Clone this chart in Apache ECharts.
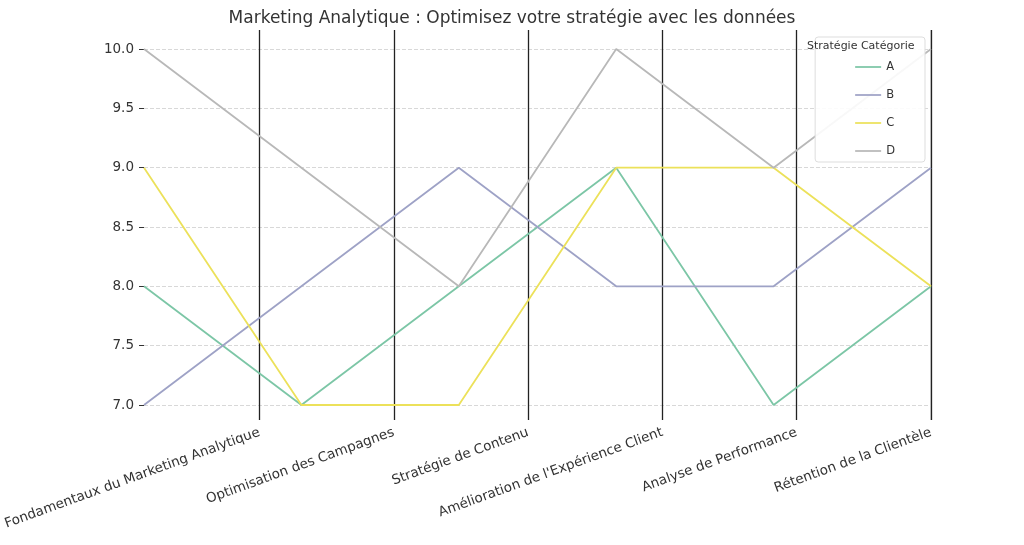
<!DOCTYPE html><html><head><meta charset="utf-8"><script src="https://cdn.jsdelivr.net/npm/echarts@6/dist/echarts.min.js"></script></head><body style="margin:0"><div id="c" style="width:1024px;height:545px"></div><script>
const categories=["Fondamentaux du Marketing Analytique","Optimisation des Campagnes","Stratégie de Contenu","Amélioration de l'Expérience Client","Analyse de Performance","Rétention de la Clientèle"];
const seriesNames=["A","B","C","D"];
const valA=[8,7,8,9,7,8];
const valB=[7,8,9,8,8,9];
const valC=[9,7,7,9,9,8];
const valD=[10,9,8,10,9,10];
const colors=["#7cc6a6","#9ea2c6","#ece15a","#b8b8b8"];
const vals=[valA,valB,valC,valD];
const F='"DejaVu Sans",sans-serif';
const ch=echarts.init(document.getElementById('c'));
ch.setOption({
 animation:false,
 title:{text:"Marketing Analytique : Optimisez votre stratégie avec les données",left:'center',top:5,textStyle:{fontFamily:F,fontSize:17,fontWeight:'normal',color:'#333'}},
 grid:[{left:144,right:93,top:49,bottom:140},{left:144,right:93,top:30,bottom:125}],
 xAxis:[
  {gridIndex:0,type:'category',data:categories,boundaryGap:false,show:false},
  {gridIndex:1,type:'value',min:0,max:5,interval:1,
   axisLine:{show:false},axisTick:{show:false},
   splitLine:{show:true,lineStyle:{color:'#222',width:1.3}},
   axisLabel:{formatter:v=>categories[v]||'',rotate:20,fontFamily:F,fontSize:13.5,color:'#333',margin:12}}],
 yAxis:[
  {gridIndex:0,type:'value',min:7,max:10,interval:0.5,
   axisLine:{show:false},axisTick:{show:true,length:5,lineStyle:{color:'#333'}},
   splitLine:{lineStyle:{color:'#d8d8d8',type:'dashed'}},
   axisLabel:{formatter:v=>v.toFixed(1),fontFamily:F,fontSize:13.5,color:'#333',margin:10}},
  {gridIndex:1,type:'value',show:true,axisLabel:{show:false},axisTick:{show:false},splitLine:{show:false},axisLine:{show:false}}],
 legend:{orient:'vertical',right:99,top:37,width:105,data:seriesNames,backgroundColor:'rgba(255,255,255,0.9)',borderColor:'#ddd',borderWidth:1,borderRadius:3,
  padding:[24,30,5,40],itemWidth:26,itemHeight:2,itemGap:16,icon:'path://M0 0H30V2H0Z',textStyle:{fontFamily:F,fontSize:11.5,color:'#333'}},
 graphic:[{type:'text',z:200,zlevel:1,left:807,top:41,style:{text:'Stratégie Catégorie',font:'11px "DejaVu Sans"',fill:'#333'}},
  {type:'line',shape:{x1:931,y1:30,x2:931,y2:420},style:{stroke:'#aaa',lineWidth:1}}],
 series:seriesNames.map((n,i)=>({name:n,type:'line',xAxisIndex:0,yAxisIndex:0,data:vals[i],symbol:'none',lineStyle:{width:1.8,color:colors[i]},itemStyle:{color:colors[i]}}))
});
</script></body></html>
